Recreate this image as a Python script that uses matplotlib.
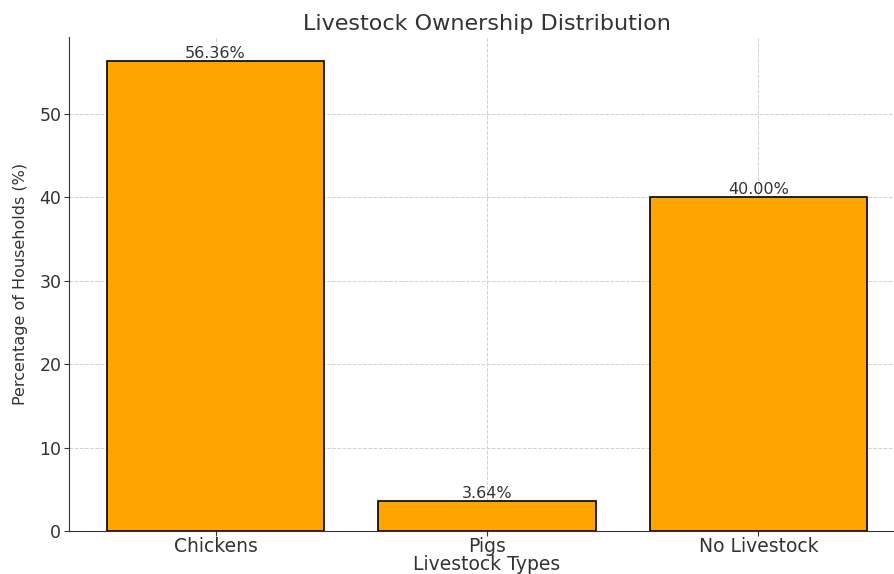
import matplotlib
matplotlib.use("Agg")
import matplotlib.pyplot as plt

# Share of households by livestock type
categories = ["Chickens", "Pigs", "No Livestock"]
percentages = [56.36, 3.64, 40.00]

TEXT = "#333333"
plt.rcParams["font.family"] = ["DejaVu Sans"]
plt.rcParams["text.color"] = TEXT
plt.rcParams["axes.labelcolor"] = TEXT
plt.rcParams["xtick.color"] = TEXT
plt.rcParams["ytick.color"] = TEXT

fig = plt.figure(figsize=(8.95, 5.74), dpi=100)
ax = fig.add_axes([0.0771, 0.0749, 0.934, 0.8606])

bars = ax.bar(categories, percentages, color="orange", edgecolor="black",
              linewidth=1.2, zorder=3)
for bar, val in zip(bars, percentages):
    ax.text(bar.get_x() + bar.get_width() / 2, bar.get_height(), f"{val:.2f}%",
            ha="center", va="bottom", fontsize=11.5, color=TEXT, zorder=4)

ax.set_title("Livestock Ownership Distribution", fontsize=16, pad=5)
ax.set_xlabel("Livestock Types", fontsize=13.5)
ax.xaxis.set_label_coords(0.5, -0.049)  # sit the label just under the tick labels
ax.set_ylabel("Percentage of Households (%)", fontsize=11.5, labelpad=8)
ax.tick_params(axis="x", labelsize=13.5, pad=1)
ax.tick_params(axis="y", labelsize=12.5, pad=2)
ax.grid(True, linestyle="--", color="#d0d0d0", linewidth=0.7, zorder=0)
ax.spines["top"].set_visible(False)
ax.spines["right"].set_visible(False)
ax.spines["left"].set_color(TEXT)
ax.spines["bottom"].set_color(TEXT)

fig.savefig("out.png", dpi=100)
